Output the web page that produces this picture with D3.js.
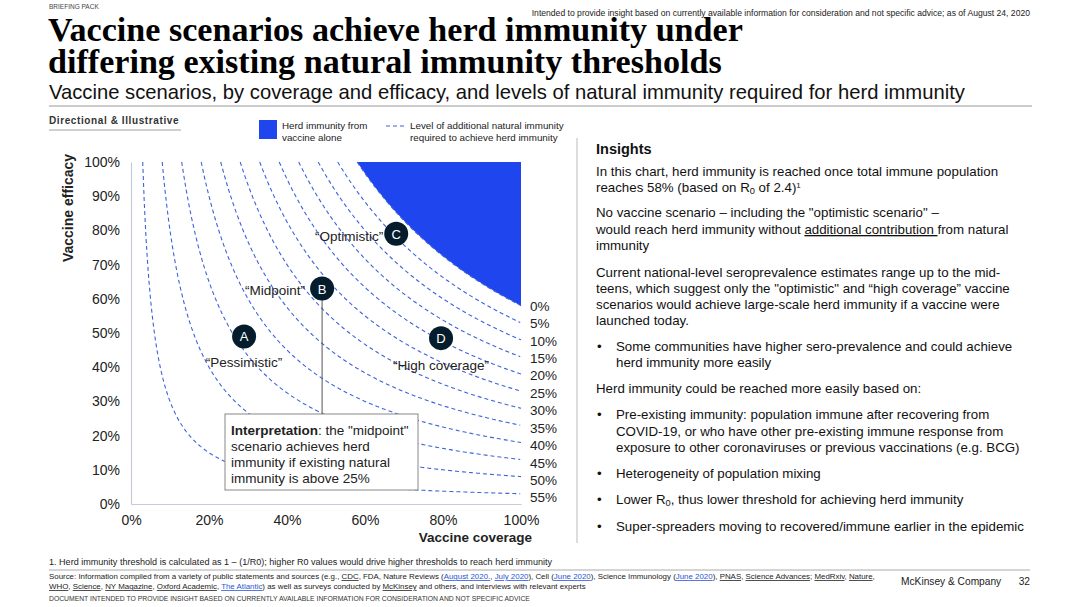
<!doctype html>
<html>
  <head>
    <meta charset="utf-8">
    <title>Vaccine scenarios and herd immunity</title>
    <script src="https://cdnjs.cloudflare.com/ajax/libs/d3/7.8.5/d3.min.js"></script>
    <style>
      body { margin: 0; background: #fff; }
      svg { display: block; font-family: "Liberation Sans", Arial, sans-serif; }
    </style>
  </head>
  <body>
    <div id="chart"></div>
    <script>
      // data
      const herdThreshold = 0.58;
      const naturalLevels = [0, 5, 10, 15, 20, 25, 30, 35, 40, 45, 50, 55];
      const xTicks = [0, 20, 40, 60, 80, 100];
      const yTicks = [0, 10, 20, 30, 40, 50, 60, 70, 80, 90, 100];
      const scenarioIds = ['A', 'B', 'C', 'D'];
      const scenarioNames = ['“Pessimistic”', '“Midpoint”', '“Optimistic”', '“High coverage”'];
      const scenarioCoverage = [0.29, 0.49, 0.68, 0.795];
      const scenarioEfficacy = [0.49, 0.63, 0.79, 0.485];

      const svg = d3.select('#chart').append('svg')
        .attr('width', 1080)
        .attr('height', 607);

      const x = d3.scaleLinear().domain([0, 1]).range([131, 521]);
      const y = d3.scaleLinear().domain([0, 1]).range([504, 162]);

      // rich text line helper: segments of {t, b, u, sub, sup, fill}
      function richLine(g, px, py, segs, size, fill) {
        const t = g.append('text').attr('x', px).attr('y', py)
          .attr('font-size', size).attr('fill', fill || '#111');
        segs.forEach(s => {
          if (typeof s === 'string') s = { t: s };
          const sp = t.append('tspan').text(s.t);
          if (s.b) sp.attr('font-weight', 'bold');
          if (s.u) sp.attr('text-decoration', 'underline');
          if (s.fill) sp.attr('fill', s.fill);
          if (s.sub) sp.attr('font-size', size * 0.7).attr('baseline-shift', '-25%');
          if (s.sup) sp.attr('font-size', size * 0.6).attr('baseline-shift', '45%');
        });
        return t;
      }

      // fit text width by adjusting font size
      function fitWidth(t, w) {
        const fs = +t.attr('font-size');
        const cur = t.node().getComputedTextLength();
        t.attr('font-size', fs * w / cur);
      }

      // squeeze narrow footer text to the width seen on the slide
      function squeeze(t, w) {
        t.attr('textLength', w).attr('lengthAdjust', 'spacingAndGlyphs');
      }

      // header
      svg.append('text').attr('x', 49).attr('y', 9).attr('font-size', 6.5)
        .attr('fill', '#444').text('BRIEFING PACK');
      svg.append('text').attr('x', 1030).attr('y', 16).attr('font-size', 8.6)
        .attr('text-anchor', 'end').attr('fill', '#222')
        .text('Intended to provide insight based on currently available information for consideration and not specific advice; as of August 24, 2020');

      const t1 = svg.append('text').attr('x', 48).attr('y', 41)
        .attr('font-family', '"Liberation Serif", "DejaVu Serif", serif')
        .attr('font-weight', 'bold').attr('font-size', 30).attr('fill', '#000')
        .text('Vaccine scenarios achieve herd immunity under');
      fitWidth(t1, 695);
      svg.append('text').attr('x', 48).attr('y', 73)
        .attr('font-family', '"Liberation Serif", "DejaVu Serif", serif')
        .attr('font-weight', 'bold').attr('font-size', t1.attr('font-size')).attr('fill', '#000')
        .text('differing existing natural immunity thresholds');
      const st = svg.append('text').attr('x', 49).attr('y', 99).attr('font-size', 19)
        .attr('fill', '#111')
        .text('Vaccine scenarios, by coverage and efficacy, and levels of natural immunity required for herd immunity');
      fitWidth(st, 916);
      svg.append('line').attr('x1', 49).attr('x2', 1032).attr('y1', 106).attr('y2', 106)
        .attr('stroke', '#999').attr('stroke-width', 1);

      // tag
      svg.append('text').attr('x', 49).attr('y', 124).attr('font-size', 10)
        .attr('font-weight', 'bold').attr('fill', '#333').attr('letter-spacing', 0.6)
        .text('Directional & Illustrative');
      svg.append('line').attr('x1', 49).attr('x2', 181).attr('y1', 130).attr('y2', 130)
        .attr('stroke', '#888').attr('stroke-width', 0.8);

      // legend
      svg.append('rect').attr('x', 259).attr('y', 120).attr('width', 18).attr('height', 19)
        .attr('fill', '#1f46ee');
      svg.append('text').attr('x', 282).attr('y', 129).attr('font-size', 9.8).attr('fill', '#222')
        .text('Herd immunity from');
      svg.append('text').attr('x', 282).attr('y', 141).attr('font-size', 9.8).attr('fill', '#222')
        .text('vaccine alone');
      svg.append('line').attr('x1', 386).attr('x2', 405).attr('y1', 126).attr('y2', 126)
        .attr('stroke', '#3d63dd').attr('stroke-width', 1).attr('stroke-dasharray', '4,3');
      svg.append('text').attr('x', 410).attr('y', 129).attr('font-size', 9.8).attr('fill', '#222')
        .text('Level of additional natural immunity');
      svg.append('text').attr('x', 410).attr('y', 141).attr('font-size', 9.8).attr('fill', '#222')
        .text('required to achieve herd immunity');

      // plot
      const plot = svg.append('g');
      const line = d3.line().x(d => x(d[0])).y(d => y(d[1]));

      // blue region: coverage * efficacy >= threshold
      const edge = d3.range(herdThreshold, 1.0001, 0.005).map(c => [Math.min(c, 1), herdThreshold / Math.min(c, 1)]);
      plot.append('path')
        .attr('d', line([[1, 1]].concat(edge)) + 'Z')
        .attr('fill', '#1f46ee');

      // iso curves of required natural immunity
      naturalLevels.forEach(n => {
        const k = herdThreshold - n / 100;
        const pts = d3.range(k, 1.0001, 0.004).map(c => [Math.min(c, 1), k / Math.min(c, 1)]);
        plot.append('path')
          .attr('d', line(pts))
          .attr('fill', 'none')
          .attr('stroke', '#3d63dd')
          .attr('stroke-width', 1.1)
          .attr('stroke-dasharray', '4,3');
        plot.append('text')
          .attr('x', 530).attr('y', y(k) + 5 + n / 15)
          .attr('font-size', 13.5).attr('fill', '#222')
          .text(n + '%');
      });

      // axes
      const yAxis = plot.append('g').attr('transform', `translate(${x(0)},0)`)
        .call(d3.axisLeft(y).tickValues(yTicks.map(d => d / 100))
          .tickFormat(d => Math.round(d * 100) + '%').tickSize(0).tickPadding(11));
      const xAxis = plot.append('g').attr('transform', `translate(0,${y(0)})`)
        .call(d3.axisBottom(x).tickValues(xTicks.map(d => d / 100))
          .tickFormat(d => Math.round(d * 100) + '%').tickSize(0).tickPadding(11));
      [yAxis, xAxis].forEach(a => {
        a.select('.domain').attr('stroke', '#c6cadb').attr('stroke-width', 1.2);
        a.selectAll('text').attr('font-size', 14).attr('fill', '#222')
          .attr('font-family', '"Liberation Sans", Arial, sans-serif');
      });

      svg.append('text').attr('transform', 'translate(73,208) rotate(-90)')
        .attr('text-anchor', 'middle').attr('font-size', 14).attr('font-weight', 'bold')
        .attr('fill', '#222').text('Vaccine efficacy');
      svg.append('text').attr('x', 532).attr('y', 542)
        .attr('text-anchor', 'end').attr('font-size', 13.5).attr('font-weight', 'bold')
        .attr('fill', '#222').text('Vaccine coverage');

      // interpretation callout
      const bx = x(scenarioCoverage[1]), by = y(scenarioEfficacy[1]);
      plot.append('line').attr('x1', bx).attr('x2', bx).attr('y1', by).attr('y2', 414)
        .attr('stroke', '#555').attr('stroke-width', 1);
      plot.append('rect').attr('x', 225).attr('y', 414).attr('width', 193).attr('height', 76)
        .attr('fill', '#fff').attr('stroke', '#888').attr('stroke-width', 1);
      const ib = plot.append('g');
      richLine(ib, 231, 435, [{ t: 'Interpretation', b: true }, ': the "midpoint"'], 13.5, '#222');
      richLine(ib, 231, 451, ['scenario achieves herd'], 13.5, '#222');
      richLine(ib, 231, 467, ['immunity if existing natural'], 13.5, '#222');
      richLine(ib, 231, 483, ['immunity is above 25%'], 13.5, '#222');

      // scenarios
      const labelDx = [0, -47, -47, 0];
      const labelDy = [26, 1, 2, 27];
      const sc = plot.selectAll('g.scenario')
        .data(scenarioIds)
        .join('g')
        .attr('class', 'scenario')
        .attr('transform', (d, i) => `translate(${x(scenarioCoverage[i])},${y(scenarioEfficacy[i])})`);
      sc.append('circle').attr('r', 12).attr('fill', '#051c2c');
      sc.append('text').attr('text-anchor', 'middle').attr('y', 5)
        .attr('font-size', 13).attr('fill', '#fff').text(d => d);
      sc.append('text')
        .attr('text-anchor', 'middle')
        .attr('x', (d, i) => labelDx[i])
        .attr('y', (d, i) => labelDy[i] + 5)
        .attr('font-size', 13.5).attr('fill', '#222')
        .text((d, i) => scenarioNames[i]);

      // divider
      svg.append('line').attr('x1', 577).attr('x2', 577).attr('y1', 138).attr('y2', 543)
        .attr('stroke', '#bbb').attr('stroke-width', 1);

      // insights panel
      const ins = svg.append('g');
      const fs = 13.3;
      richLine(ins, 596, 154, [{ t: 'Insights', b: true }], 14.5, '#111');
      richLine(ins, 596, 176, ['In this chart, herd immunity is reached once total immune population'], fs);
      richLine(ins, 596, 192, ['reaches 58% (based on R', { t: '0', sub: true }, ' of 2.4)', { t: '1', sup: true }], fs);
      richLine(ins, 596, 217, ['No vaccine scenario – including the "optimistic scenario" –'], fs);
      richLine(ins, 596, 234, ['would reach herd immunity without ', { t: 'additional contribution ', u: true }, 'from natural'], fs);
      richLine(ins, 596, 250, ['immunity'], fs);
      richLine(ins, 596, 277, ['Current national-level seroprevalence estimates range up to the mid-'], fs);
      richLine(ins, 596, 293, ['teens, which suggest only the "optimistic" and “high coverage” vaccine'], fs);
      richLine(ins, 596, 309, ['scenarios would achieve large-scale herd immunity if a vaccine were'], fs);
      richLine(ins, 596, 325, ['launched today.'], fs);
      richLine(ins, 597, 351, ['•'], fs);
      richLine(ins, 616, 351, ['Some communities have higher sero-prevalence and could achieve'], fs);
      richLine(ins, 616, 367, ['herd immunity more easily'], fs);
      richLine(ins, 596, 393, ['Herd immunity could be reached more easily based on:'], fs);
      richLine(ins, 597, 419, ['•'], fs);
      richLine(ins, 616, 419, ['Pre-existing immunity: population immune after recovering from'], fs);
      richLine(ins, 616, 436, ['COVID-19, or who have other pre-existing immune response from'], fs);
      richLine(ins, 616, 452, ['exposure to other coronaviruses or previous vaccinations (e.g. BCG)'], fs);
      richLine(ins, 597, 478, ['•'], fs);
      richLine(ins, 616, 478, ['Heterogeneity of population mixing'], fs);
      richLine(ins, 597, 504, ['•'], fs);
      richLine(ins, 616, 504, ['Lower R', { t: '0', sub: true }, ', thus lower threshold for achieving herd immunity'], fs);
      richLine(ins, 597, 531, ['•'], fs);
      richLine(ins, 616, 531, ['Super-spreaders moving to recovered/immune earlier in the epidemic'], fs);

      // footer
      const foot = svg.append('g');
      const blue = '#2a55d6';
      const fn = richLine(foot, 49, 565, ['1. Herd immunity threshold is calculated as 1 – (1/R0); higher R0 values would drive higher thresholds to reach herd immunity'], 8.4, '#222');
      squeeze(fn, 503);
      foot.append('line').attr('x1', 49).attr('x2', 1030).attr('y1', 570).attr('y2', 570)
        .attr('stroke', '#aaa').attr('stroke-width', 1);
      richLine(foot, 49, 579, ['Source: Information compiled from a variety of public statements and sources (e.g., ', { t: 'CDC', u: true },
        ', FDA, Nature Reviews (', { t: 'August 2020.', u: true, fill: blue }, ', ', { t: 'July 2020', u: true, fill: blue },
        '), Cell (', { t: 'June 2020', u: true, fill: blue }, '), Science Immunology (', { t: 'June 2020', u: true, fill: blue },
        '), ', { t: 'PNAS', u: true }, ', ', { t: 'Science Advances', u: true }, '; ', { t: 'MedRxiv', u: true }, ', ',
        { t: 'Nature', u: true }, ','], 7.9, '#222');
      richLine(foot, 49, 589, [{ t: 'WHO', u: true }, ', ', { t: 'Science', u: true }, ', ', { t: 'NY Magazine', u: true }, ', ',
        { t: 'Oxford Academic', u: true }, ', ', { t: 'The Atlantic', u: true, fill: blue },
        ') as well as surveys conducted by ', { t: 'McKinsey', u: true }, ' and others, and interviews with relevant experts'], 7.9, '#222');
      richLine(foot, 49, 601, ['DOCUMENT INTENDED TO PROVIDE INSIGHT BASED ON CURRENTLY AVAILABLE INFORMATION FOR CONSIDERATION AND NOT SPECIFIC ADVICE'], 6.8, '#333');
      richLine(foot, 901, 585, ['McKinsey & Company'], 10.2, '#222');
      svg.append('text').attr('x', 1030).attr('y', 585).attr('text-anchor', 'end')
        .attr('font-size', 10.2).attr('fill', '#222').text('32');
    </script>
  </body>
</html>
